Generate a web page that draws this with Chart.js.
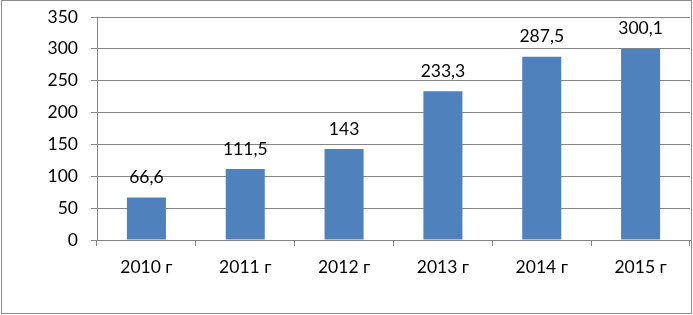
<!DOCTYPE html>
<html>
<head>
<meta charset="utf-8">
<script src="https://cdn.jsdelivr.net/npm/chart.js@4"></script>
<style>
  html, body { margin: 0; padding: 0; background: #fff; }
  #wrap { width: 693px; height: 315px; position: relative; }
</style>
</head>
<body>
<div id="wrap"><canvas id="chart" width="693" height="315"></canvas></div>
<script>
// Données du graphique
const years = ['2010 г', '2011 г', '2012 г', '2013 г', '2014 г', '2015 г'];
const values = [66.6, 111.5, 143, 233.3, 287.5, 300.1];
const valueLabels = ['66,6', '111,5', '143', '233,3', '287,5', '300,1'];
const yTicks = [0, 50, 100, 150, 200, 250, 300, 350];

const FONT = { family: 'Lato, "Open Sans", sans-serif', size: 17.5 };
const GRID = '#868686';

// Cadre autour du graphique
const framePlugin = {
    id: 'frame',
    beforeDraw(chart) {
        const ctx = chart.ctx;
        ctx.save();
        ctx.fillStyle = '#fff';
        ctx.fillRect(0, 0, chart.width, chart.height);
        ctx.strokeStyle = '#8c8c8c';
        ctx.lineWidth = 1;
        ctx.strokeRect(1.5, 0.5, 690, 313);
        ctx.restore();
    }
};

// Étiquettes de valeurs au-dessus des barres
const valueLabelPlugin = {
    id: 'valueLabels',
    afterDatasetsDraw(chart) {
        const ctx = chart.ctx;
        const meta = chart.getDatasetMeta(0);
        ctx.save();
        ctx.font = FONT.size + 'px ' + FONT.family;
        ctx.fillStyle = '#000';
        ctx.textAlign = 'center';
        ctx.textBaseline = 'middle';
        meta.data.forEach(function(bar, i) {
            ctx.fillText(valueLabels[i], bar.x, bar.y - 20);
        });
        ctx.restore();
    }
};

new Chart(document.getElementById('chart'), {
    type: 'bar',
    data: {
        labels: years,
        datasets: [{
            data: values,
            backgroundColor: '#4F81BD',
            barPercentage: 0.395,
            categoryPercentage: 1
        }]
    },
    options: {
        responsive: false,
        animation: false,
        layout: { padding: { left: 0, top: 17, right: 3, bottom: 0 } },
        plugins: {
            legend: { display: false },
            tooltip: { enabled: false }
        },
        scales: {
            x: {
                offset: true,
                grid: {
                    offset: true,
                    drawOnChartArea: false,
                    drawTicks: true,
                    tickLength: 6,
                    color: GRID
                },
                border: { color: GRID },
                ticks: { font: FONT, color: '#000', padding: 11, maxRotation: 0 },
                afterFit(scale) {
                    scale.height = 75;
                    scale.paddingLeft = 0;
                    scale.paddingRight = 0;
                }
            },
            y: {
                min: 0,
                max: 350,
                afterBuildTicks(scale) {
                    scale.ticks = yTicks.map(v => ({ value: v }));
                },
                grid: { color: GRID, tickLength: 6 },
                border: { color: GRID },
                ticks: { font: FONT, color: '#000', padding: 13 },
                afterFit(scale) {
                    scale.width = 97;
                    scale.paddingTop = 0;
                    scale.paddingBottom = 0;
                }
            }
        }
    },
    plugins: [framePlugin, valueLabelPlugin]
});
</script>
</body>
</html>
